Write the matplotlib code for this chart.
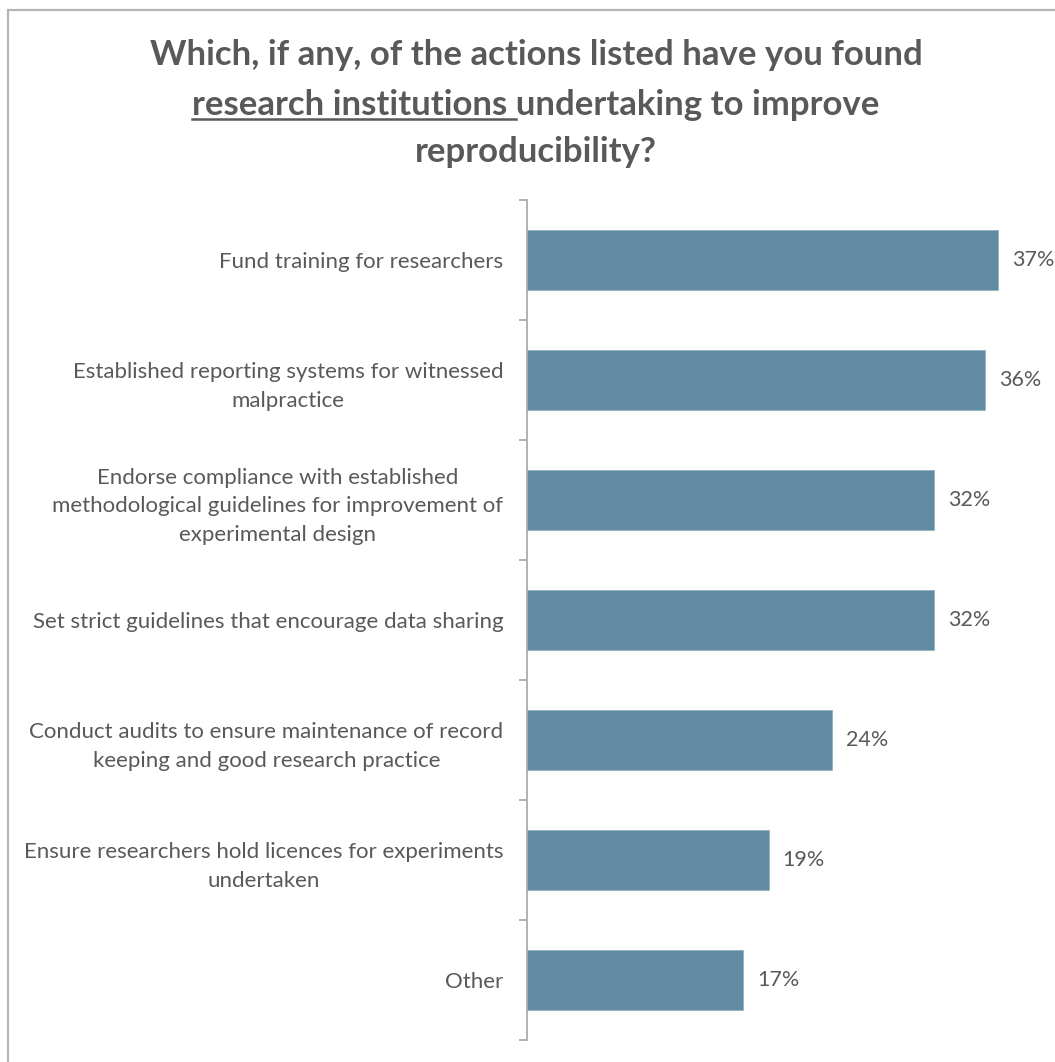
import matplotlib.pyplot as plt
from matplotlib.patches import Rectangle
from matplotlib.lines import Line2D

actions = [
    "Fund training for researchers",
    "Established reporting systems for witnessed\nmalpractice",
    "Endorse compliance with established\nmethodological guidelines for improvement of\nexperimental design",
    "Set strict guidelines that encourage data sharing",
    "Conduct audits to ensure maintenance of record\nkeeping and good research practice",
    "Ensure researchers hold licences for experiments\nundertaken",
    "Other",
]
percent = [37, 36, 32, 32, 24, 19, 17]

bar_col = "#628AA3"
text_col = "#595959"
axis_col = "#A6A6A6"

plt.rcParams["font.family"] = ["Lato", "DejaVu Sans"]

W, H = 1055, 1062
fig = plt.figure(figsize=(W / 100, H / 100), dpi=100)

# outer chart frame
fig.patches.append(Rectangle((8 / W, -0.1), 1.2, 1 - 10 / H + 0.1, transform=fig.transFigure,
                             fill=False, edgecolor="#B4B4B4", linewidth=1.6))

ax = fig.add_axes([527 / W, 1 - 1040 / H, (1036 - 527) / W, 840 / H])
ypos = list(range(len(actions)))
ax.barh(ypos, percent, height=0.5, color=bar_col, edgecolor="#8FB0C4", linewidth=0.6)
ax.set_xlim(0, 40)
ax.set_ylim(len(actions) - 0.5, -0.5)

for y, v in zip(ypos, percent):
    ax.annotate(f"{v}%", (v, y), xytext=(10, 0), textcoords="offset points",
                va="center", ha="left", fontsize=15.5, color=text_col)

ax.set_xticks([])
ax.set_yticks([y - 0.5 for y in range(len(actions) + 1)], minor=False)
ax.set_yticklabels([])
ax.set_yticks(ypos, minor=True)
ax.set_yticklabels(actions, minor=True, fontsize=16, color=text_col,
                   ha="right", multialignment="center", linespacing=1.55)
ax.tick_params(axis="y", which="major", length=6, color=axis_col, width=1.2, direction="out")
ax.tick_params(axis="y", which="minor", length=0, pad=17)
for s in ["top", "right", "bottom"]:
    ax.spines[s].set_visible(False)
ax.spines["left"].set_color(axis_col)
ax.spines["left"].set_linewidth(1.2)

# title, with the second line partly underlined
tsize = 25
tkw = dict(ha="center", va="center", fontsize=tsize, fontweight="bold", color=text_col,
           transform=fig.transFigure)
cx = 536 / W
fig.text(cx, 1 - 55 / H, "Which, if any, of the actions listed have you found", **tkw)
line2 = fig.text(cx, 1 - 105 / H, "research institutions undertaking to improve", **tkw)
fig.text(cx, 1 - 152 / H, "reproducibility?", **tkw)

fig.canvas.draw()
r = fig.canvas.get_renderer()
bb = line2.get_window_extent(r)
probe = fig.text(0, 0, "research institutions ", fontsize=tsize, fontweight="bold")
pw = probe.get_window_extent(r).width
probe.remove()
uy = bb.y0 + 2
fig.lines.append(Line2D([bb.x0 / W, (bb.x0 + pw) / W], [uy / H, uy / H],
                        transform=fig.transFigure, color=text_col, linewidth=1.8))

fig.savefig("out.png", dpi=100)
